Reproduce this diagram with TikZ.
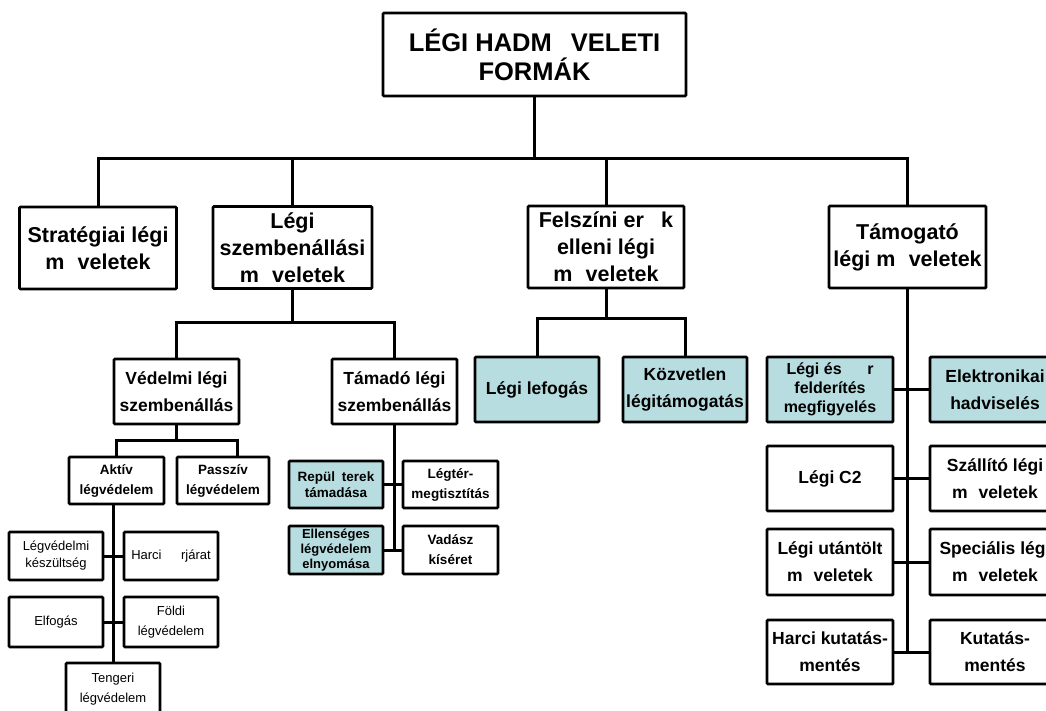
\documentclass[tikz,border=0pt]{standalone}
\usepackage{fontspec}
\setmainfont{Liberation Sans}
\usetikzlibrary{positioning}

\definecolor{cyanbox}{HTML}{B7DDE0}
% blank left where a glyph is missing in the picture
\newcommand{\hole}[1][0.62em]{\hspace{#1}}

\begin{document}
\begin{tikzpicture}[
        x=1pt, y=-1pt,
        box/.style={draw, line width=2.8pt, rounded corners=1pt, fill=white, align=center, inner sep=0pt},
        bluebox/.style={box, fill=cyanbox},
        link/.style={line width=3pt},
        topfont/.style={font=\fontsize{25.5}{29}\selectfont\bfseries},
        bigfont/.style={font=\fontsize{21.5}{27}\selectfont\bfseries},
        midfont/.style={font=\fontsize{17.5}{27}\selectfont\bfseries},
        smallbold/.style={font=\fontsize{13.5}{20}\selectfont\bfseries},
        smallfont/.style={font=\fontsize{13}{20}\selectfont}
    ]

    \fill[white] (0,0) rectangle (1046,710);
    \useasboundingbox (0,0) rectangle (1046,710);
    \clip (0,0) rectangle (1046,710);

    % --- Top box ---
    \node[box, topfont, minimum width=303, minimum height=83] (forms) at (534.5,54.5) {LÉGI HADM\hole[0.75em]VELETI\\FORMÁK};

    % --- First level ---
    \node[box, bigfont, minimum width=157, minimum height=82] (strat) at (98,248) {Stratégiai légi\\m\hole veletek};
    \node[box, bigfont, minimum width=159, minimum height=82] (szemb) at (292.5,247.5) {Légi\\szembenállási\\m\hole veletek};
    \node[box, bigfont, minimum width=156, minimum height=82] (felsz) at (606,247) {Felszíni er\hole[0.8em]k\\elleni légi\\m\hole veletek};
    \node[box, bigfont, minimum width=157, minimum height=82] (tamog) at (907.5,247) {Támogató\\légi m\hole veletek};

    \coordinate (trunk) at (534.5,158);
    \draw[link] (forms.south) -- (trunk);
    \draw[link] (strat.north) |- (trunk);
    \draw[link] (szemb.north) |- (trunk);
    \draw[link] (felsz.north) |- (trunk);
    \draw[link] (tamog.north) |- (trunk);

    % --- Legi szembenallasi muveletek ---
    \node[box, midfont, minimum width=125, minimum height=65] (vedelmi) at (176.5,391.5) {Védelmi légi\\szembenállás};
    \node[box, midfont, minimum width=125, minimum height=65] (tamado) at (394.5,391.5) {Támadó légi\\szembenállás};

    \coordinate (szembfork) at (292.5,322);
    \draw[link] (szemb.south) -- (szembfork);
    \draw[link] (vedelmi.north) |- (szembfork);
    \draw[link] (tamado.north) |- (szembfork);

    % Vedelmi
    \node[box, smallbold, minimum width=95, minimum height=47] (aktiv) at (116.5,480.5) {Aktív\\légvédelem};
    \node[box, smallbold, minimum width=92, minimum height=47] (passziv) at (223,480.5) {Passzív\\légvédelem};

    \coordinate (vedfork) at (176.5,440);
    \draw[link] (vedelmi.south) -- (vedfork);
    \draw[link] (aktiv.north) |- (vedfork);
    \draw[link] (passziv.60) |- (vedfork);

    % Aktiv
    \node[box, smallfont, font=\fontsize{13}{17}\selectfont, minimum width=94, minimum height=48] (keszult) at (56,556) {Légvédelmi\\készültség};
    \node[box, smallfont, minimum width=94, minimum height=48] (orjarat) at (171,556) {Harci\hole[1.5em]rjárat};
    \node[box, smallfont, minimum width=94, minimum height=50] (elfog) at (56,622) {Elfogás};
    \node[box, smallfont, minimum width=94, minimum height=50] (foldi) at (171,622) {Földi\\légvédelem};
    \node[box, smallfont, minimum width=94, minimum height=52] (tenger) at (113,689) {Tengeri\\légvédelem};

    \draw[link] (tenger.north) -- (tenger.north |- aktiv.south);
    \draw[link] (keszult.east) -- (orjarat.west);
    \draw[link] (elfog.east) -- (foldi.west);

    % Tamado
    \node[bluebox, smallbold, font=\fontsize{13.5}{16}\selectfont\bfseries, minimum width=94, minimum height=47] (repul) at (336,484.5) {Repül\hole[0.5em]terek\\támadása};
    \node[box, smallbold, minimum width=95, minimum height=47] (legter) at (450.5,484.5) {Légtér-\\megtisztítás};
    \node[bluebox, smallbold, font=\fontsize{13}{15}\selectfont\bfseries, minimum width=94, minimum height=48] (ellen) at (336,550) {Ellenséges\\légvédelem\\elnyomása};
    \node[box, smallbold, minimum width=95, minimum height=48] (vadasz) at (450.5,550) {Vadász\\kíséret};

    \draw[link] (tamado.south) -- (tamado.south |- ellen.east);
    \draw[link] (repul.east) -- (legter.west);
    \draw[link] (ellen.east) -- (vadasz.west);

    % --- Felszini erok elleni legi muveletek ---
    \node[bluebox, midfont, minimum width=124, minimum height=65] (lefog) at (537,389.5) {Légi lefogás};
    \node[bluebox, midfont, minimum width=124, minimum height=65] (kozv) at (685,389.5) {Közvetlen\\légitámogatás};

    \coordinate (felszfork) at (606,318);
    \draw[link] (felsz.south) -- (felszfork);
    \draw[link] (lefog.north) |- (felszfork);
    \draw[link] (kozv.north) |- (felszfork);

    % --- Tamogato legi muveletek ---
    \node[bluebox, font=\fontsize{16}{19}\selectfont\bfseries, minimum width=126, minimum height=65] (legies) at (830,389.5) {Légi és\hole[1.6em]r\\felderítés\\megfigyelés};
    \node[bluebox, midfont, minimum width=130, minimum height=65] (elektr) at (995,389.5) {Elektronikai\\hadviselés};
    \node[box, midfont, minimum width=126, minimum height=65] (c2) at (830,478.5) {Légi C2};
    \node[box, midfont, minimum width=130, minimum height=65] (szall) at (995,478.5) {Szállító légi\\m\hole veletek};
    \node[box, midfont, minimum width=126, minimum height=66] (utant) at (830,562) {Légi utántölt\\m\hole veletek};
    \node[box, midfont, minimum width=130, minimum height=66] (spec) at (995,562) {Speciális légi\\m\hole veletek};
    \node[box, midfont, minimum width=126, minimum height=64] (hkut) at (830,652) {Harci kutatás-\\mentés};
    \node[box, midfont, minimum width=130, minimum height=64] (kut) at (995,652) {Kutatás-\\mentés};

    \draw[link] (tamog.south) -- (tamog.south |- hkut.east);
    \draw[link] (legies.east) -- (elektr.west);
    \draw[link] (c2.east) -- (szall.west);
    \draw[link] (utant.east) -- (spec.west);
    \draw[link] (hkut.east) -- (kut.west);

\end{tikzpicture}
\end{document}
